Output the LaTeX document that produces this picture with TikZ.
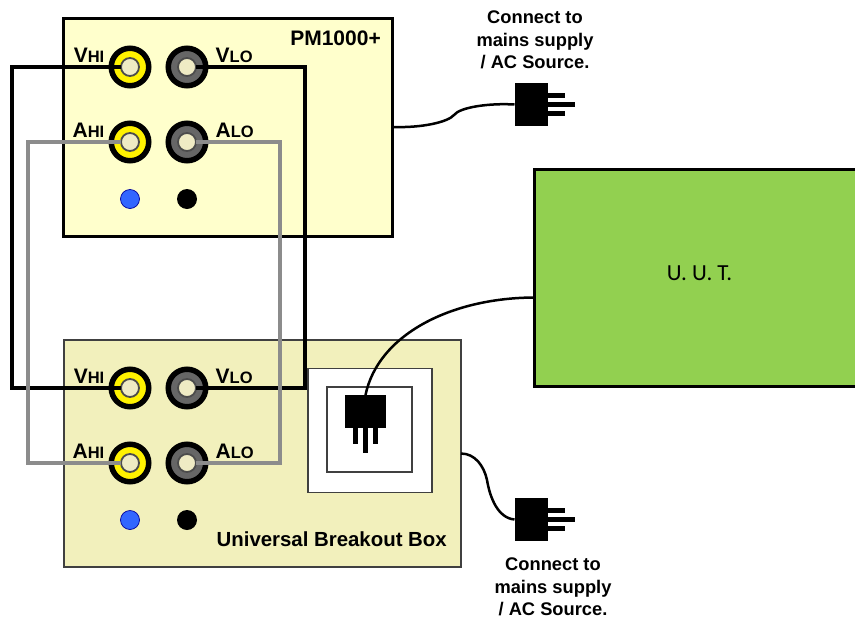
\documentclass[tikz,border=0pt]{standalone}
\usepackage{fontspec}
\setmainfont{Liberation Sans}
\newfontfamily\uutfont{Carlito}
\usetikzlibrary{positioning}
\definecolor{pmfill}{HTML}{FFFFCC}
\definecolor{boxfill}{HTML}{F2F0BC}
\definecolor{holefill}{HTML}{EFEBC4}
\definecolor{uutfill}{HTML}{92D050}
\definecolor{dotblue}{HTML}{3366FF}
\definecolor{wiregray}{HTML}{8C8C8C}
\tikzset{
  panel/.style={rectangle, draw=black, line width=3pt, anchor=north west, inner sep=0pt, outer sep=0pt},
  jackhi/.style={circle, draw=black, fill=yellow, line width=5.5pt, minimum size=37.5pt, inner sep=0pt},
  jacklo/.style={circle, draw=black, fill=black!60, line width=5.5pt, minimum size=37.5pt, inner sep=0pt},
  hole/.style={circle, draw=black!70, fill=holefill, line width=1.8pt, minimum size=18pt, inner sep=0pt, outer sep=0pt},
  dotb/.style={circle, draw=blue!60!black, fill=dotblue, line width=.7pt, minimum size=19pt, inner sep=0pt},
  dotk/.style={circle, fill=black, minimum size=20pt, inner sep=0pt},
  jacklabel/.style={inner sep=0pt, font=\bfseries},
  caption/.style={align=center, inner sep=0pt, font=\fontsize{18.3}{22.5}\selectfont\bfseries},
  plugbody/.style={rectangle, fill=black, inner sep=0pt, outer sep=0pt},
  prong/.style={line width=5pt, black},
  wireblack/.style={line width=3.3pt, black},
  wiregrey/.style={line width=3.3pt, wiregray},
  cable/.style={line width=2.5pt, black},
  socket/.style={rectangle, draw=black!75, fill=white, line width=1.5pt, inner sep=0pt, outer sep=0pt}
}
\newcommand{\jacktext}[2]{{\fontsize{21}{19}\selectfont #1}{\fontsize{16.5}{19}\selectfont #2}}
\begin{document}
\begin{tikzpicture}[x=1pt, y=-1pt]
\useasboundingbox (0,0) rectangle (855,619);
\node[panel, fill=pmfill, minimum width=329pt, minimum height=218pt] (pm) at (63.5,18) {};
\node[panel, fill=boxfill, draw=black!75, line width=2pt, minimum width=397pt, minimum height=227pt] (box) at (64,340) {};
\node[panel, fill=uutfill, minimum width=330pt, minimum height=217pt] (uut) at (534,169) {};
\node[font=\fontsize{23}{22}\selectfont\uutfont, inner sep=0pt] (uutname) at (699.5,273) {U. U. T.};
\node[font=\fontsize{21}{21}\selectfont\bfseries, inner sep=0pt, anchor=east] (pmname) at (381,38) {PM1000+};
\node[font=\fontsize{20.4}{20}\selectfont\bfseries, inner sep=0pt, anchor=east] (boxname) at (447,539) {Universal Breakout Box};
% PM1000+ jacks
\node[jackhi] (pmvhi) at (130,67) {};
\node[jacklo] (pmvlo) at (187,67) {};
\node[jackhi] (pmahi) at (130,142) {};
\node[jacklo] (pmalo) at (187,142) {};
\node[hole] (pmvhih) at (pmvhi) {};
\node[hole] (pmvloh) at (pmvlo) {};
\node[hole] (pmahih) at (pmahi) {};
\node[hole] (pmaloh) at (pmalo) {};
\node[dotb] (pmdotb) at (130,199) {};
\node[dotk] (pmdotk) at (187,199) {};
\node[jacklabel, left=4pt of pmvhi, yshift=12pt] (pmvhit) {\jacktext{V}{HI}};
\node[jacklabel, right=7pt of pmvlo, yshift=12pt] (pmvlot) {\jacktext{V}{LO}};
\node[jacklabel, left=4pt of pmahi, yshift=12pt] (pmahit) {\jacktext{A}{HI}};
\node[jacklabel, right=7pt of pmalo, yshift=12pt] (pmalot) {\jacktext{A}{LO}};
% breakout box jacks
\node[jackhi] (bxvhi) at (130,388) {};
\node[jacklo] (bxvlo) at (187,388) {};
\node[jackhi] (bxahi) at (130,463) {};
\node[jacklo] (bxalo) at (187,463) {};
\node[hole] (bxvhih) at (bxvhi) {};
\node[hole] (bxvloh) at (bxvlo) {};
\node[hole] (bxahih) at (bxahi) {};
\node[hole] (bxaloh) at (bxalo) {};
\node[dotb] (bxdotb) at (130,520) {};
\node[dotk] (bxdotk) at (187,520) {};
\node[jacklabel, left=4pt of bxvhi, yshift=12pt] (bxvhit) {\jacktext{V}{HI}};
\node[jacklabel, right=7pt of bxvlo, yshift=12pt] (bxvlot) {\jacktext{V}{LO}};
\node[jacklabel, left=4pt of bxahi, yshift=12pt] (bxahit) {\jacktext{A}{HI}};
\node[jacklabel, right=7pt of bxalo, yshift=12pt] (bxalot) {\jacktext{A}{LO}};
% socket
\node[socket, minimum size=124pt] (sockout) at (370,430.5) {};
\node[socket, minimum size=85pt] (sockin) at (369.5,429.5) {};
% plugs
\node[plugbody, minimum width=33pt, minimum height=43pt] (plugtop) at (531,104.5) {};
\node[plugbody, minimum width=33pt, minimum height=43pt] (plugbot) at (531,519.5) {};
\node[plugbody, minimum width=41pt, minimum height=33pt] (plugsock) at (365.5,411.5) {};
\draw[prong] ([yshift=9pt]plugtop.east) -- ++(17,0);
\draw[prong] (plugtop.east) -- ++(27,0);
\draw[prong] ([yshift=-9pt]plugtop.east) -- ++(17,0);
\draw[prong] ([yshift=9pt]plugbot.east) -- ++(17,0);
\draw[prong] (plugbot.east) -- ++(27,0);
\draw[prong] ([yshift=-9pt]plugbot.east) -- ++(17,0);
\draw[prong] ([xshift=-10pt]plugsock.south) -- ++(0,16);
\draw[prong] (plugsock.south) -- ++(0,25);
\draw[prong] ([xshift=10pt]plugsock.south) -- ++(0,16);
\node[caption] (mainstop) at (535,40) {Connect to\\mains supply\\/ AC Source.};
\node[caption] (mainsbot) at (553,587) {Connect to\\mains supply\\/ AC Source.};
% wires
\draw[wireblack] (pmvhih.west) -| (12,388) -- (bxvhih.west);
\draw[wireblack] (pmvloh.east) -| (305,388) -- (bxvloh.east);
\draw[wiregrey] (pmahih.west) -| (28,463) -- (bxahih.west);
\draw[wiregrey] (pmaloh.east) -| (280,463) -- (bxaloh.east);
% cables
\draw[cable] (pm.east) .. controls +(30,1) and (448,122) .. (454,115) .. controls (460,107) and (490,103) .. (plugtop.west);
\draw[cable] (box.east) .. controls +(14,0) and (484,466) .. (487,480) .. controls (490,498) and (498,518) .. (plugbot.west);
\draw[cable] ([yshift=-20pt]uut.west) .. controls (450,298) and (378,335) .. (plugsock.north);
\end{tikzpicture}
\end{document}
